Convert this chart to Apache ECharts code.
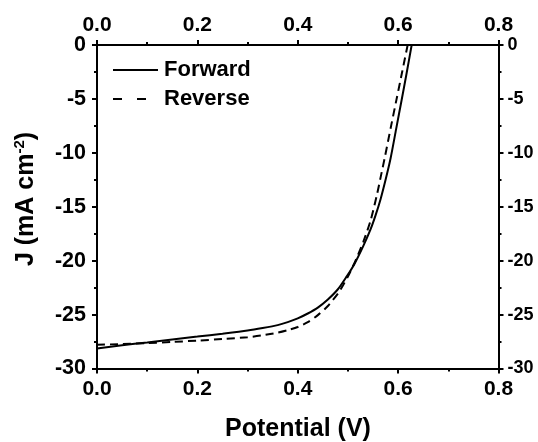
<!DOCTYPE html>
<html>
<head>
<meta charset="utf-8">
<script src="https://cdn.jsdelivr.net/npm/echarts@6/dist/echarts.min.js"></script>
<style>html,body{margin:0;padding:0;background:#fff}#c{width:538px;height:442px}</style>
</head>
<body>
<div id="c"></div>
<script>
// Potential (V) and current density J (mA cm^-2)
var forwardV = [0, 0.05, 0.1, 0.15, 0.2, 0.25, 0.3, 0.33, 0.36, 0.38, 0.4, 0.42, 0.44, 0.46, 0.48, 0.497, 0.513, 0.53, 0.545, 0.555, 0.565, 0.575, 0.585, 0.596, 0.607, 0.617, 0.627];
var forwardJ = [-28.15, -27.85, -27.58, -27.3, -27.04, -26.77, -26.48, -26.25, -25.98, -25.7, -25.35, -24.9, -24.35, -23.6, -22.65, -21.5, -20.3, -18.7, -17.1, -15.8, -14.3, -12.5, -10.5, -7.8, -5.1, -2.6, 0];
var reverseV = [0, 0.05, 0.1, 0.15, 0.2, 0.25, 0.3, 0.33, 0.36, 0.38, 0.4, 0.42, 0.44, 0.46, 0.48, 0.49, 0.503, 0.517, 0.531, 0.545, 0.558, 0.565, 0.574, 0.586, 0.597, 0.608, 0.619];
var reverseJ = [-27.8, -27.73, -27.65, -27.54, -27.41, -27.27, -27.1, -26.92, -26.68, -26.45, -26.15, -25.7, -25.05, -24.2, -23.05, -22.3, -21.2, -19.8, -18.2, -16.3, -13.85, -12.3, -10.3, -7.5, -5.0, -2.5, 0];
var seriesNames = ['Forward', 'Reverse'];
var xTitle = 'Potential (V)';

function pairs(xs, ys) { return xs.map(function (x, i) { return [x, ys[i]]; }); }

var FONT = '"Liberation Sans", Arial, sans-serif';
function xAx(pos) {
  return {
    type: 'value', position: pos, min: 0, max: 0.8, interval: 0.2,
    axisLine: { show: true, onZero: false, lineStyle: { color: '#000', width: 2 } },
    axisTick: { show: true, inside: false, length: 5, lineStyle: { color: '#000', width: 2 } },
    minorTick: { show: true, splitNumber: 2, length: 3, lineStyle: { color: '#000', width: 2 } },
    splitLine: { show: false },
    axisLabel: { show: true, margin: pos === 'top' ? 9 : 10, color: '#000', fontSize: 21, fontWeight: 'bold', fontFamily: FONT,
      formatter: function (v) { return v.toFixed(1); } }
  };
}
function yAx(pos, fs) {
  return {
    type: 'value', position: pos, min: -30, max: 0, interval: 5,
    axisLine: { show: true, onZero: false, lineStyle: { color: '#000', width: 2 } },
    axisTick: { show: true, inside: false, length: 5, lineStyle: { color: '#000', width: 2 } },
    minorTick: { show: true, splitNumber: 2, length: 3, lineStyle: { color: '#000', width: 2 } },
    splitLine: { show: false },
    axisLabel: { show: true, margin: pos === 'left' ? 11 : 9, color: '#000', fontSize: fs, fontWeight: 'bold', fontFamily: FONT }
  };
}

var chart = echarts.init(document.getElementById('c'), null, { renderer: 'canvas' });
chart.setOption({
  animation: false,
  backgroundColor: '#fff',
  grid: { left: 97, right: 39.5, top: 45, bottom: 73.5, containLabel: false },
  xAxis: [xAx('bottom'), xAx('top')],
  yAxis: [yAx('left', 21.5), yAx('right', 18)],
  series: [
    { name: seriesNames[0], type: 'line', xAxisIndex: 0, yAxisIndex: 0, data: pairs(forwardV, forwardJ),
      showSymbol: false, smooth: 0.25, lineStyle: { color: '#000', width: 2, type: 'solid' } },
    { name: seriesNames[1], type: 'line', xAxisIndex: 0, yAxisIndex: 0, data: pairs(reverseV, reverseJ),
      showSymbol: false, smooth: 0.25, lineStyle: { color: '#000', width: 2, type: [8, 5] } }
  ],
  graphic: [
    { type: 'line', shape: { x1: 113, y1: 70, x2: 158, y2: 70 }, style: { stroke: '#000', lineWidth: 2 } },
    { type: 'line', shape: { x1: 113, y1: 99, x2: 158, y2: 99 }, style: { stroke: '#000', lineWidth: 2, lineDash: [9, 15] } },
    { type: 'text', x: 164, y: 70, style: { text: seriesNames[0], fill: '#000', font: 'bold 22px ' + FONT, verticalAlign: 'middle', align: 'left' } },
    { type: 'text', x: 164, y: 99, style: { text: seriesNames[1], fill: '#000', font: 'bold 22px ' + FONT, verticalAlign: 'middle', align: 'left' } },
    { type: 'text', x: 298, y: 429, style: { text: xTitle, fill: '#000', font: 'bold 25px ' + FONT, align: 'center', verticalAlign: 'middle' } },
    { type: 'text', x: 26, y: 199, rotation: Math.PI / 2,
      style: { text: '{m|J (mA cm}{s|-2}{m|)}', align: 'center', verticalAlign: 'middle', fill: '#000',
        rich: { m: { fontSize: 25, fontWeight: 'bold', fontFamily: FONT, fill: '#000' },
                s: { fontSize: 15, fontWeight: 'bold', fontFamily: FONT, fill: '#000', verticalAlign: 'top', padding: [0, 0, 12, 0] } } } }
  ]
});
</script>
</body>
</html>
